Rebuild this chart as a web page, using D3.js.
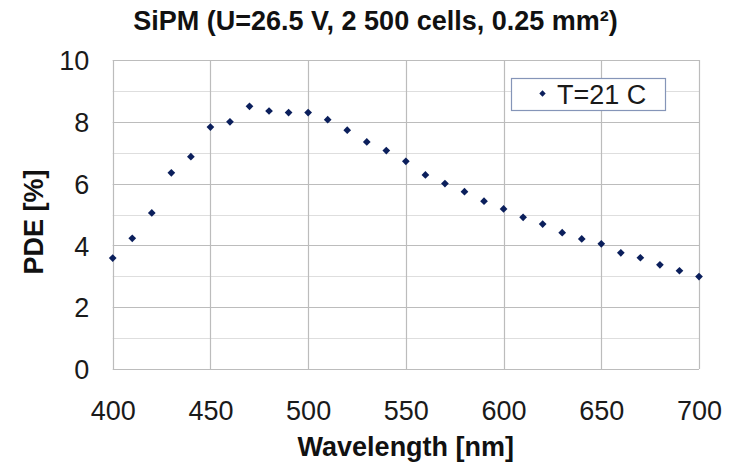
<!DOCTYPE html>
<html>
<head>
<meta charset="utf-8">
<script src="https://cdn.jsdelivr.net/npm/d3@7"></script>
<style>
  html, body { margin: 0; padding: 0; background: #ffffff; }
  svg { display: block; font-family: "Liberation Sans", Arial, sans-serif; }
</style>
</head>
<body>
<svg id="chart" width="735" height="467"></svg>
<script>
// ---- data ----
const wavelengths = [400, 410, 420, 430, 440, 450, 460, 470, 480, 490, 500,
                     510, 520, 530, 540, 550, 560, 570, 580, 590, 600,
                     610, 620, 630, 640, 650, 660, 670, 680, 690, 700];
const pde = [3.59, 4.23, 5.05, 6.35, 6.87, 7.83, 8.00, 8.50, 8.35, 8.30, 8.30,
             8.07, 7.73, 7.35, 7.07, 6.72, 6.28, 6.00, 5.74, 5.43, 5.18,
             4.91, 4.69, 4.41, 4.21, 4.05, 3.76, 3.60, 3.37, 3.18, 2.99];
const xTicks = [400, 450, 500, 550, 600, 650, 700];
const yTicks = [0, 2, 4, 6, 8, 10];
const yMinorTicks = [1, 3, 5, 7, 9];
const seriesName = "T=21 C";
const titleText = "SiPM (U=26.5 V, 2 500 cells, 0.25 mm²)";
const xLabel = "Wavelength [nm]";
const yLabel = "PDE [%]";

// ---- layout ----
const svg = d3.select("#chart");
const pL = 112.7, pR = 699, pT = 60, pB = 369;
const x = d3.scaleLinear().domain([400, 700]).range([pL, pR]);
const y = d3.scaleLinear().domain([0, 10]).range([pB, pT]);

const markerColor = "#0b1f5c";
const textColor = "#1a1a1a";

// minor horizontal gridlines
svg.append("g").selectAll("line").data(yMinorTicks).join("line")
  .attr("x1", pL).attr("x2", pR)
  .attr("y1", d => Math.round(y(d)) + 0.5).attr("y2", d => Math.round(y(d)) + 0.5)
  .attr("stroke", "#dedede").attr("stroke-width", 1.2);

// major horizontal gridlines
svg.append("g").selectAll("line").data(yTicks).join("line")
  .attr("x1", pL).attr("x2", pR)
  .attr("y1", d => Math.round(y(d)) + 0.5).attr("y2", d => Math.round(y(d)) + 0.5)
  .attr("stroke", "#bcbcbc").attr("stroke-width", 1.2);

// vertical gridlines
svg.append("g").selectAll("line").data(xTicks).join("line")
  .attr("y1", pT).attr("y2", pB)
  .attr("x1", d => Math.round(x(d)) + 0.5).attr("x2", d => Math.round(x(d)) + 0.5)
  .attr("stroke", "#bcbcbc").attr("stroke-width", 1.2);

// axes (labels only)
const xAxis = d3.axisBottom(x).tickValues(xTicks).tickSize(0).tickPadding(0).tickFormat(d3.format("d"));
const gx = svg.append("g").attr("transform", `translate(0,${pB})`).call(xAxis);
gx.select(".domain").remove();
gx.selectAll("text").attr("font-size", 27).attr("fill", textColor)
  .attr("font-family", "Liberation Sans, Arial, sans-serif")
  .attr("dy", null).attr("y", 51);

const yAxis = d3.axisLeft(y).tickValues(yTicks).tickSize(0).tickPadding(0).tickFormat(d3.format("d"));
const gy = svg.append("g").attr("transform", `translate(${pL},0)`).call(yAxis);
gy.select(".domain").remove();
gy.selectAll("text").attr("font-size", 27).attr("fill", textColor)
  .attr("font-family", "Liberation Sans, Arial, sans-serif")
  .attr("x", -23.5).attr("dy", "0.36em");

// markers
const diamond = d3.symbol().type(d3.symbolDiamond2).size(38);
svg.append("g").selectAll("path").data(wavelengths).join("path")
  .attr("d", diamond)
  .attr("transform", (d, i) => `translate(${x(d)},${y(pde[i])})`)
  .attr("fill", markerColor);

// legend
const lg = svg.append("g");
lg.append("rect").attr("x", 511.5).attr("y", 78.5).attr("width", 154).attr("height", 32)
  .attr("fill", "#ffffff").attr("stroke", "#8595b8").attr("stroke-width", 1.2);
lg.append("path").attr("d", d3.symbol().type(d3.symbolDiamond2).size(26))
  .attr("transform", "translate(542.5,93.5)").attr("fill", markerColor);
lg.append("text").attr("x", 557).attr("y", 103.5).attr("font-size", 27)
  .attr("fill", textColor).text(seriesName);

// title
svg.append("text").attr("x", 375.5).attr("y", 29.5).attr("text-anchor", "middle")
  .attr("font-size", 27).attr("font-weight", "bold").attr("fill", "#111")
  .text(titleText);

// axis titles
svg.append("text").attr("x", (pL + pR) / 2).attr("y", 455.5).attr("text-anchor", "middle")
  .attr("font-size", 27).attr("font-weight", "bold").attr("fill", "#111")
  .text(xLabel);

svg.append("text").attr("transform", "translate(43,222) rotate(-90)").attr("text-anchor", "middle")
  .attr("font-size", 27).attr("font-weight", "bold").attr("fill", "#111")
  .text(yLabel);
</script>
</body>
</html>
